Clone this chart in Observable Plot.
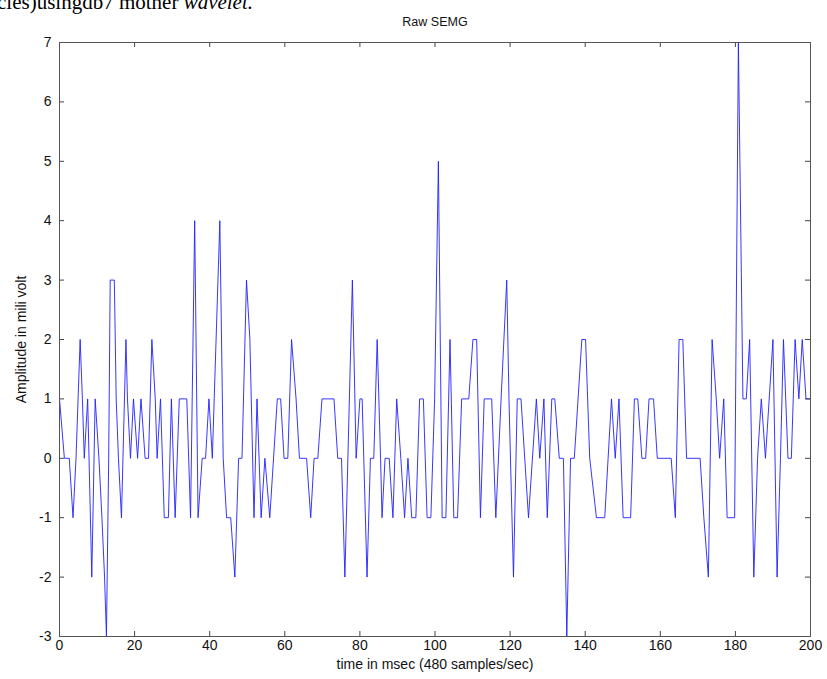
<!DOCTYPE html>
<html>
<head>
<meta charset="utf-8">
<script src="https://cdn.jsdelivr.net/npm/d3@7"></script>
<script src="https://cdn.jsdelivr.net/npm/@observablehq/plot@0.6"></script>
<style>
  html, body { margin: 0; padding: 0; background: #fff; }
  #wrap { position: relative; width: 827px; height: 679px; overflow: hidden; background: #fff; }
  #clip { position: absolute; z-index: 2; left: -3px; top: -10px; font-family: "Liberation Serif", "DejaVu Serif", serif; font-size: 21px; color: #000; white-space: nowrap; }
  #title { position: absolute; z-index: 2; left: 0; width: 870px; top: 15px; text-align: center; font-family: "Liberation Sans", Arial, sans-serif; font-size: 12.5px; color: #111; }
  #chart { position: absolute; z-index: 1; left: 0; top: 0; }
</style>
</head>
<body>
<div id="wrap">
  <div id="chart"></div>
  <div id="clip">cles)usingdb7 mother <i>wavelet.</i></div>
  <div id="title">Raw SEMG</div>
</div>
<script>
// Vertices of the raw SEMG trace (time in msec, amplitude in mili volt)
const timeMs = [
  0, 1.3, 2.6, 3.6, 4.4, 5.5, 6.1, 6.6, 7.5, 8.6, 9.5, 10.5, 11.3, 12, 12.5, 13.1, 13.5, 14.6, 15.1, 15.7,
  16.5, 17.3, 17.7, 18.1, 18.9, 19.7, 20.8, 21.7, 22.8, 23.7, 24.6, 25.5, 26, 26.9, 27.9, 29.0, 29.8, 30.8, 31.9, 33.9,
  34.9, 36, 36.9, 38, 38.9, 39.8, 40.7, 41.2, 42.7, 43.6, 44.5, 45.6, 46.7, 47.7, 48.6, 49.8, 50.7, 51.8, 52.6, 53.7,
  54.7, 56, 58, 58.9, 59.8, 60.8, 61.8, 63, 63.9, 65.8, 66.9, 67.8, 68.8, 69.9, 73.1, 74.1, 75.1, 76, 78, 79,
  80, 80.6, 81.9, 82.8, 83.7, 84.6, 85.5, 85.9, 86.7, 87.8, 88.8, 89.8, 90.9, 91.9, 92.8, 93.8, 94.9, 95.9, 96.9, 97.9,
  98.9, 99.9, 100.9, 101.9, 102.9, 104, 105, 106, 107.1, 109, 110.1, 111.1, 112.1, 113.1, 115.1, 116.2, 117.6, 119.1, 119.7, 120.9,
  121.9, 122.9, 124.9, 127, 127.9, 129, 129.9, 131.1, 131.9, 133.1, 134.2, 135.1, 136.1, 137.1, 139.1, 140.1, 141.2, 143, 145.2, 146.1,
  147, 148, 149, 150.1, 152.1, 153.1, 154, 155.1, 156.1, 157, 158.2, 159.2, 162.9, 164, 165, 166, 167, 170.6, 171.6, 172.8,
  173.8, 174.9, 175.8, 176.9, 177.8, 179.8, 180.8, 182, 182.9, 183.8, 184.9, 185.9, 186.9, 188, 190, 191.1, 192, 192.8, 194, 194.9,
  195.9, 196.9, 197.8, 198.8, 200
];
const amplitude = [
  1, 0, 0, -1, 0, 2, 1, 0, 1, -2, 1, 0, -1, -2, -3, 0, 3, 3, 1, 0,
  -1, 1, 2, 1, 0, 1, 0, 1, 0, 0, 2, 1, 0, 1, -1, -1, 1, -1, 1, 1,
  -1, 4, -1, 0, 0, 1, 0, 1, 4, 0, -1, -1, -2, 0, 0, 3, 2, -1, 1, -1,
  0, -1, 1, 1, 0, 0, 2, 1, 0, 0, -1, 0, 0, 1, 1, 0, 0, -2, 3, 0,
  1, 1, -2, 0, 0, 2, 0, -1, 0, 0, -1, 1, 0, -1, 0, -1, -1, 1, 1, -1,
  -1, 1, 5, -1, -1, 2, -1, -1, 1, 1, 2, 2, -1, 1, 1, -1, 1, 3, 1, -2,
  1, 1, -1, 1, 0, 1, -1, 1, 1, 0, 0, -3, 0, 0, 2, 2, 0, -1, -1, 0,
  1, 0, 1, -1, -1, 1, 1, 0, 0, 1, 1, 0, 0, -1, 2, 2, 0, 0, -1, -2,
  2, 1, 0, 1, -1, -1, 7, 1, 1, 2, -2, 0, 1, 0, 2, -2, 0, 2, 0, 0,
  2, 1, 2, 1, 1
];
const xTicks = [0, 20, 40, 60, 80, 100, 120, 140, 160, 180, 200];
const yTicks = [-3, -2, -1, 0, 1, 2, 3, 4, 5, 6, 7];

const data = timeMs.map((t, i) => ({t, v: amplitude[i]}));

const W = 827, H = 679, mL = 59, mR = 17, mT = 42, mB = 43;
const innerH = H - mT - mB, innerW = W - mL - mR;
const tickLen = 5;
const font = "Liberation Sans, Arial, sans-serif";

const chart = Plot.plot({
  width: W, height: H,
  marginLeft: mL, marginRight: mR, marginTop: mT, marginBottom: mB,
  style: {fontFamily: font, fontSize: "14px", color: "#111", background: "white"},
  x: {domain: [0, 200]},
  y: {domain: [-3, 7]},
  marks: [
    Plot.line(data, {x: "t", y: "v", stroke: "#2020ff", strokeWidth: 0.9}),
    // inward ticks on all four sides
    Plot.tickX(xTicks, {x: d => d, insetTop: innerH - tickLen, stroke: "#444"}),
    Plot.tickX(xTicks, {x: d => d, insetBottom: innerH - tickLen, stroke: "#444"}),
    Plot.tickY(yTicks, {y: d => d, insetRight: innerW - tickLen, stroke: "#444"}),
    Plot.tickY(yTicks, {y: d => d, insetLeft: innerW - tickLen, stroke: "#444"}),
    Plot.frame({stroke: "#555"}),
    Plot.axisX(xTicks, {tickSize: 0, tickPadding: 4, fontSize: 14, tickFormat: d => String(d), label: "time in msec (480 samples/sec)", labelAnchor: "center", labelOffset: 32, labelArrow: "none"}),
    Plot.axisY(yTicks, {tickSize: 0, tickPadding: 8, fontSize: 14, tickFormat: d => String(d), label: "Amplitude in mili volt", labelAnchor: "center", labelOffset: 43, labelArrow: "none"})
  ]
});
document.getElementById("chart").appendChild(chart);
</script>
</body>
</html>
